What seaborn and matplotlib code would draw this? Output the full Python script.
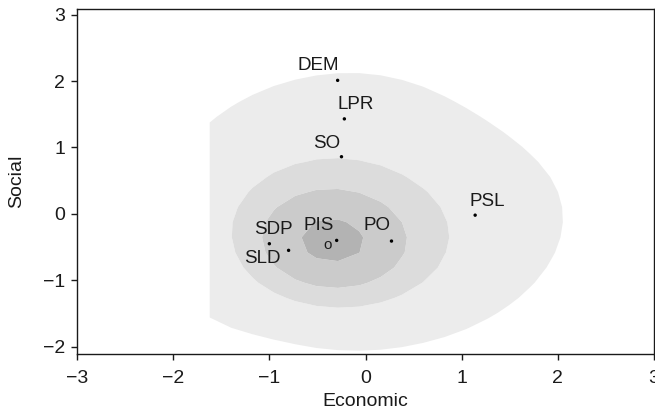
import numpy as np
import pandas as pd
import matplotlib
matplotlib.use("Agg")
import matplotlib.pyplot as plt
import seaborn as sns

# Party positions on the two ideological dimensions
parties = ["DEM", "LPR", "SO", "PSL", "SDP", "SLD", "PIS", "PO"]
economic = [-0.29, -0.22, -0.25, 1.14, -1.00, -0.80, -0.30, 0.27]
social = [2.01, 1.43, 0.86, -0.02, -0.45, -0.55, -0.40, -0.41]

# Centre of the voter distribution
voter_centre_econ = -0.39
voter_centre_soc = -0.47

# Voter density model: a broad plateau, a concentrated core,
# a sparse upper-right region and a small lower-left tail
plateau_centre = (0.02, 0.10)
plateau_radius = 2.30
plateau_power = 4.0
core_centre = (-0.36, -0.42)
core_sd = 0.70
core_weight = 1.0
sparse_centre = (2.2, 2.4)
sparse_sd = 1.0
sparse_weight = -0.43
tail_centre = (-1.8, -1.7)
tail_sd = 0.45
tail_weight = 0.14
density_levels = [0.52, 1.18, 1.52, 1.88, 2.10]
fill_colors = ["#ececec", "#dcdcdc", "#cbcbcb", "#b3b3b3"]

# Label offsets (points) for each party name relative to its dot
label_offsets = {
    "DEM": (-14.2, 10.6), "LPR": (8.4, 10.1), "SO": (-10.6, 9.4),
    "PSL": (8.5, 9.6), "SDP": (2.7, 9.9), "PIS": (-13.0, 10.4),
    "PO": (-10.6, 10.9), "SLD": (-18.9, -5.8),
}


def bump(X, Y, centre, sd, weight):
    return weight * np.exp(-((X - centre[0]) ** 2 + (Y - centre[1]) ** 2) / (2 * sd ** 2))


sns.set_theme(style="ticks")
plt.rcParams["font.family"] = ["Liberation Sans", "DejaVu Sans"]

fig = plt.figure(figsize=(6.55, 4.15), dpi=100)
ax = fig.add_axes([0.1176, 0.1463, 0.8809, 0.8313])

# Density surface on the grid covered by respondents
gx = np.linspace(-1.62, 2.6, 20)
gy = np.linspace(-2.4, 2.6, 23)
X, Y = np.meshgrid(gx, gy)
r = np.hypot(X - plateau_centre[0], Y - plateau_centre[1])
Z = (np.exp(-(r / plateau_radius) ** plateau_power)
     + bump(X, Y, core_centre, core_sd, core_weight)
     + bump(X, Y, sparse_centre, sparse_sd, sparse_weight)
     + bump(X, Y, tail_centre, tail_sd, tail_weight))

ax.contourf(X, Y, Z, levels=density_levels, colors=fill_colors, antialiased=True)

df = pd.DataFrame({"party": parties, "economic": economic, "social": social})
sns.scatterplot(data=df, x="economic", y="social", ax=ax, color="black",
                s=6, marker="o", edgecolor="none", zorder=5, legend=False)

for name, ex, so in zip(parties, economic, social):
    dx, dy = label_offsets[name]
    ax.annotate(name, (ex, so), xytext=(dx, dy), textcoords="offset points",
                ha="center", va="center", fontsize=13.5, color="#1a1a1a", zorder=6)

ax.text(voter_centre_econ, voter_centre_soc, "o", ha="center", va="center",
        fontsize=11, color="#1a1a1a", zorder=6)

ax.set_xlim(-3, 3)
ax.set_ylim(-2.115, 3.08)
ax.set_xticks([-3, -2, -1, 0, 1, 2, 3])
ax.set_yticks([-2, -1, 0, 1, 2, 3])
ax.set_xticklabels(["\u22123", "\u22122", "\u22121", "0", "1", "2", "3"])
ax.set_yticklabels(["\u22122", "\u22121", "0", "1", "2", "3"])
ax.set_xlabel("Economic", fontsize=14, color="#1a1a1a", labelpad=4)
ax.set_ylabel("Social", fontsize=14, color="#1a1a1a", labelpad=13)
ax.tick_params(direction="out", length=4.5, width=1, labelsize=14, colors="#1a1a1a")
ax.tick_params(axis="x", pad=7)
ax.tick_params(axis="y", pad=4)
for sp in ax.spines.values():
    sp.set_visible(True)
    sp.set_color("#1a1a1a")
    sp.set_linewidth(1)

fig.savefig("out.png", dpi=100)
